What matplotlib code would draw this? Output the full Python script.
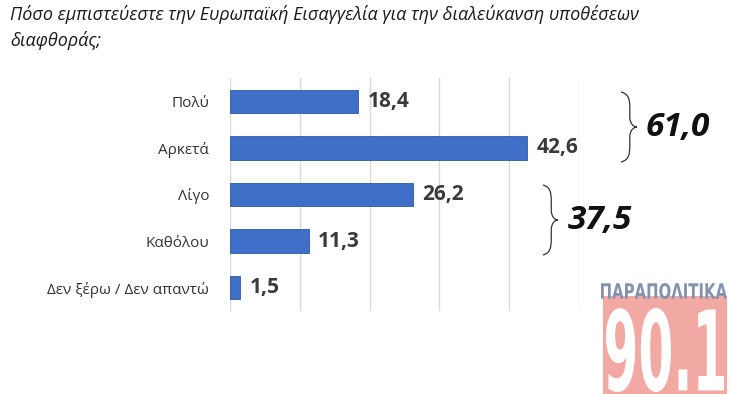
import matplotlib
matplotlib.use("Agg")
import matplotlib.pyplot as plt
from matplotlib.path import Path
from matplotlib.patches import PathPatch, Rectangle
from matplotlib.textpath import TextPath
from matplotlib.font_manager import FontProperties
from matplotlib.transforms import Affine2D

plt.rcParams['font.family'] = ['Open Sans', 'DejaVu Sans']

title = "Πόσο εμπιστεύεστε την Ευρωπαϊκή Εισαγγελία για την διαλεύκανση υποθέσεων\nδιαφθοράς;"
categories = ["Πολύ", "Αρκετά", "Λίγο", "Καθόλου", "Δεν ξέρω / Δεν απαντώ"]
values = [18.4, 42.6, 26.2, 11.3, 1.5]
value_labels = ["18,4", "42,6", "26,2", "11,3", "1,5"]
group_labels = ["61,0", "37,5"]

W, H = 732, 394
fig = plt.figure(figsize=(W / 100, H / 100), dpi=100)
ax = fig.add_axes([230 / W, (H - 311) / H, 349 / W, 233 / H])

y = list(range(len(categories)))
ax.barh(y, values, height=0.5, color='#3f6fc6', edgecolor='#2f5aa8', linewidth=0.6, zorder=3)
ax.set_xlim(0, 50)
ax.set_ylim(len(categories) - 0.5, -0.5)
ax.set_xticks([0, 10, 20, 30, 40, 50])
ax.xaxis.grid(True, color='#d9d9d9', linewidth=1)
ax.tick_params(axis='x', length=0, labelbottom=False)
ax.tick_params(axis='y', length=0, pad=15, labelsize=11, labelcolor='#333333')
ax.set_yticks(y)
ax.set_yticklabels(categories)
for s in ax.spines.values():
    s.set_visible(False)

for yi, v, lab in zip(y, values, value_labels):
    ax.text(v + 1.3, yi, lab, va='center', ha='left', fontsize=15, fontweight='bold', color='#3a3a3a')

fig.text(10 / W, 1 - 5 / H, title, ha='left', va='top', fontsize=13, style='italic',
         color='#1a1a1a', linespacing=1.5)

# braces
def brace(x0, y0, y1, w):
    ym = (y0 + y1) / 2
    xm = x0 + w * 0.55
    pts = [(x0, y0),
           (x0 + w * 0.5, y0 + 2), (xm, y0 + 8), (xm, y0 + 16),
           (xm, ym - 10),
           (xm, ym - 3), (x0 + w * 0.8, ym), (x0 + w, ym),
           (x0 + w * 0.8, ym), (xm, ym + 3), (xm, ym + 10),
           (xm, y1 - 16),
           (xm, y1 - 8), (x0 + w * 0.5, y1 - 2), (x0, y1)]
    codes = [Path.MOVETO,
             Path.CURVE4, Path.CURVE4, Path.CURVE4,
             Path.LINETO,
             Path.CURVE4, Path.CURVE4, Path.CURVE4,
             Path.CURVE4, Path.CURVE4, Path.CURVE4,
             Path.LINETO,
             Path.CURVE4, Path.CURVE4, Path.CURVE4]
    pts = [(px / W, 1 - py / H) for px, py in pts]
    fig.patches.append(PathPatch(Path(pts, codes), transform=fig.transFigure, fill=False,
                                 edgecolor='#333333', linewidth=0.9))

brace(621, 92, 162, 16)
brace(543, 185, 255, 15)
fig.text(646 / W, 1 - 128 / H, group_labels[0], ha='left', va='center', fontsize=24,
         fontweight='bold', style='italic', color='#111111')
fig.text(568 / W, 1 - 221 / H, group_labels[1], ha='left', va='center', fontsize=24,
         fontweight='bold', style='italic', color='#111111')

# logo
fig.patches.append(Rectangle((603 / W, 0), 124 / W, (H - 296) / H, transform=fig.transFigure,
                             facecolor='#f2a9a3', edgecolor='none'))
fp = FontProperties(family='DejaVu Sans', weight='bold')
tp = TextPath((0, 0), "ΠΑΡΑΠΟΛΙΤΙΚΑ", prop=fp, size=10)
bb = tp.get_extents()
sx = 126 / bb.width
sy = 16 / bb.height
tr = Affine2D().translate(-bb.x0, -bb.y0).scale(sx, sy).translate(601, H - 299) + \
    Affine2D().scale(1 / W, 1 / H) + fig.transFigure
fig.patches.append(PathPatch(tp, transform=tr, facecolor='#8393ad', edgecolor='none'))

tp2 = TextPath((0, 0), "90.1", prop=fp, size=10)
bb2 = tp2.get_extents()
sx2 = 118 / bb2.width
sy2 = 84 / bb2.height
tr2 = Affine2D().translate(-bb2.x0, -bb2.y0).scale(sx2, sy2).translate(606, H - 392) + \
    Affine2D().scale(1 / W, 1 / H) + fig.transFigure
fig.patches.append(PathPatch(tp2, transform=tr2, facecolor='white', edgecolor='none'))

fig.savefig("out.png", dpi=100, facecolor='white')
